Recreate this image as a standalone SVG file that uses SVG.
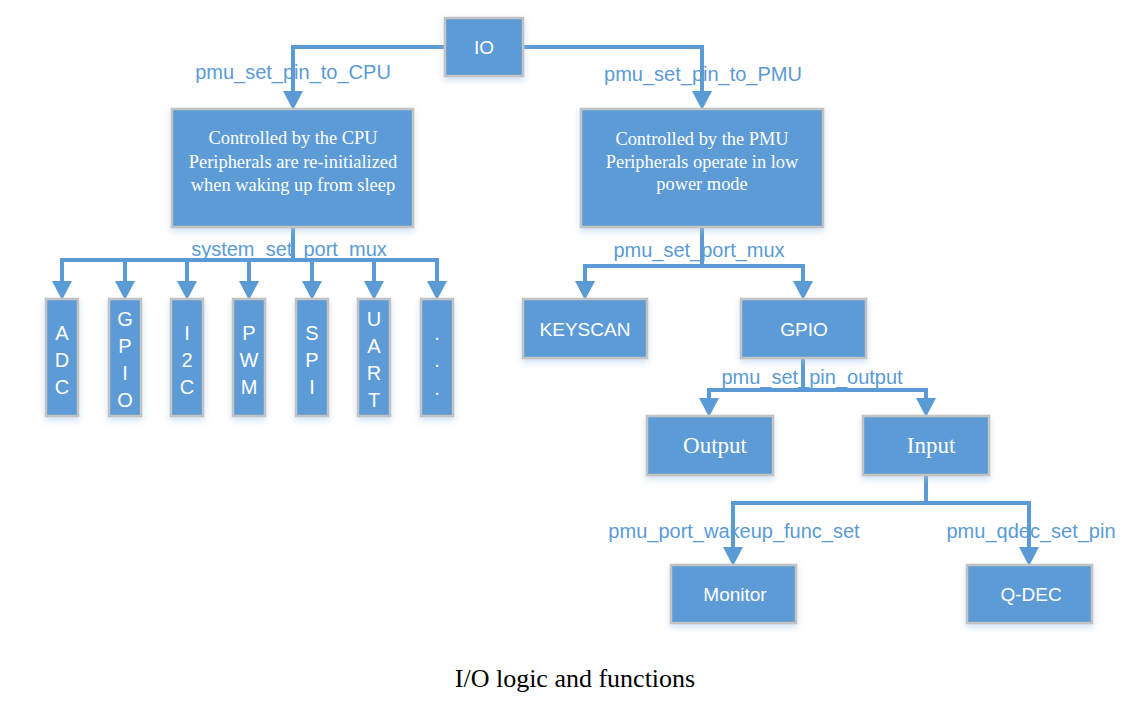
<svg xmlns="http://www.w3.org/2000/svg" width="1144" height="707" viewBox="0 0 1144 707">
<style>
.box{fill:#5b9bd5;stroke:#c3c3c3;stroke-width:2.5;filter:url(#sh)}
.t{font-family:"Liberation Sans",Arial,sans-serif;font-size:19px;fill:#fff;text-anchor:middle}
.v{font-family:"Liberation Sans",Arial,sans-serif;font-size:20px;fill:#fff;text-anchor:middle}
.s{font-family:"Liberation Serif","Times New Roman",serif;font-size:18.4px;fill:#fff;text-anchor:middle}
.so{font-family:"Liberation Serif","Times New Roman",serif;font-size:23px;fill:#fff;text-anchor:middle}
.lbl{font-family:"Liberation Sans",Arial,sans-serif;font-size:20px;fill:#5b9bd5;text-anchor:middle}
.cap{font-family:"Liberation Serif","Times New Roman",serif;font-size:26px;fill:#000;text-anchor:middle}
.c{fill:none;stroke:#5b9bd5;stroke-width:4}
.a{marker-end:url(#arr)}
</style>
<defs>
<filter id="sh" x="-20%" y="-20%" width="140%" height="150%">
<feDropShadow dx="0" dy="3" stdDeviation="3" flood-color="#9dc3e6" flood-opacity="0.5"/>
</filter>
<marker id="arr" markerUnits="userSpaceOnUse" markerWidth="20" markerHeight="20" viewBox="0 0 18 19" refX="0" refY="9.5" orient="auto">
<path d="M0,0 L18,9.5 L0,19 z" fill="#5b9bd5"/>
</marker>
</defs>
<rect width="1144" height="707" fill="#fff"/>

<g id="labels">
<text class="lbl" x="293" y="79">pmu_set_pin_to_CPU</text>
<text class="lbl" x="703" y="81">pmu_set_pin_to_PMU</text>
<text class="lbl" x="289" y="256">system_set_port_mux</text>
<text class="lbl" x="699" y="257">pmu_set_port_mux</text>
<text class="lbl" x="812" y="384">pmu_set_pin_output</text>
<text class="lbl" x="734" y="538">pmu_port_wakeup_func_set</text>
<text class="lbl" x="1031" y="538">pmu_qdec_set_pin</text>
</g>

<g id="connectors">
<path class="c a" d="M445,47 H293 V91"/>
<path class="c a" d="M523,47 H702 V91"/>
<path class="c" d="M293,227 V260 M60,260 H439"/>
<path class="c a" d="M62,258 V281"/>
<path class="c a" d="M125,260 V281"/>
<path class="c a" d="M187,260 V281"/>
<path class="c a" d="M249,260 V281"/>
<path class="c a" d="M312,260 V281"/>
<path class="c a" d="M374,260 V281"/>
<path class="c a" d="M437,258 V281"/>
<path class="c" d="M702,227 V266 M583,266 H805"/>
<path class="c a" d="M585,264 V281"/>
<path class="c a" d="M803,264 V281"/>
<path class="c" d="M803,358 V390 M707,390 H928"/>
<path class="c a" d="M709,388 V398"/>
<path class="c a" d="M926,388 V398"/>
<path class="c" d="M926,475 V503 M731,503 H1031"/>
<path class="c a" d="M733,501 V547"/>
<path class="c a" d="M1029,501 V547"/>
</g>

<g id="io"><rect class="box" x="445" y="18" width="78" height="58"/><text class="t" x="484" y="54">IO</text></g>

<g id="cpu"><rect class="box" x="172" y="109" width="241" height="118"/>
<text class="s" x="293" y="144">Controlled by the CPU</text>
<text class="s" x="293" y="168">Peripherals are re-initialized</text>
<text class="s" x="293" y="191">when waking up from sleep</text></g>

<g id="pmu"><rect class="box" x="581" y="109" width="242" height="118"/>
<text class="s" x="702" y="145">Controlled by the PMU</text>
<text class="s" x="702" y="168">Peripherals operate in low</text>
<text class="s" x="702" y="190">power mode</text></g>

<g id="adc"><rect class="box" x="46" y="299" width="32" height="117"/>
<text class="v" x="62" y="340">A</text><text class="v" x="62" y="367">D</text><text class="v" x="62" y="394">C</text></g>
<g id="gpio-cpu"><rect class="box" x="109" y="299" width="32" height="117"/>
<text class="v" x="125" y="326">G</text><text class="v" x="125" y="353">P</text><text class="v" x="125" y="380">I</text><text class="v" x="125" y="407">O</text></g>
<g id="i2c"><rect class="box" x="171" y="299" width="32" height="117"/>
<text class="v" x="187" y="340">I</text><text class="v" x="187" y="367">2</text><text class="v" x="187" y="394">C</text></g>
<g id="pwm"><rect class="box" x="233" y="299" width="32" height="117"/>
<text class="v" x="249" y="340">P</text><text class="v" x="249" y="367">W</text><text class="v" x="249" y="394">M</text></g>
<g id="spi"><rect class="box" x="296" y="299" width="32" height="117"/>
<text class="v" x="312" y="340">S</text><text class="v" x="312" y="367">P</text><text class="v" x="312" y="394">I</text></g>
<g id="uart"><rect class="box" x="358" y="299" width="32" height="117"/>
<text class="v" x="374" y="326">U</text><text class="v" x="374" y="353">A</text><text class="v" x="374" y="380">R</text><text class="v" x="374" y="407">T</text></g>
<g id="more"><rect class="box" x="421" y="299" width="32" height="117"/>
<text class="v" x="437" y="340">.</text><text class="v" x="437" y="367">.</text><text class="v" x="437" y="395">.</text></g>

<g id="keyscan"><rect class="box" x="523" y="299" width="124" height="59"/><text class="t" x="585" y="336">KEYSCAN</text></g>
<g id="gpio"><rect class="box" x="741" y="299" width="125" height="59"/><text class="t" x="804" y="336">GPIO</text></g>
<g id="output"><rect class="box" x="647" y="416" width="126" height="59"/><text class="so" x="715" y="453">Output</text></g>
<g id="input"><rect class="box" x="863" y="416" width="126" height="59"/><text class="so" x="931" y="453">Input</text></g>
<g id="monitor"><rect class="box" x="671" y="565" width="125" height="58"/><text class="t" x="735" y="601">Monitor</text></g>
<g id="qdec"><rect class="box" x="967" y="565" width="125" height="58"/><text class="t" x="1031" y="601">Q-DEC</text></g>

<text class="cap" x="575" y="687">I/O logic and functions</text>
</svg>
